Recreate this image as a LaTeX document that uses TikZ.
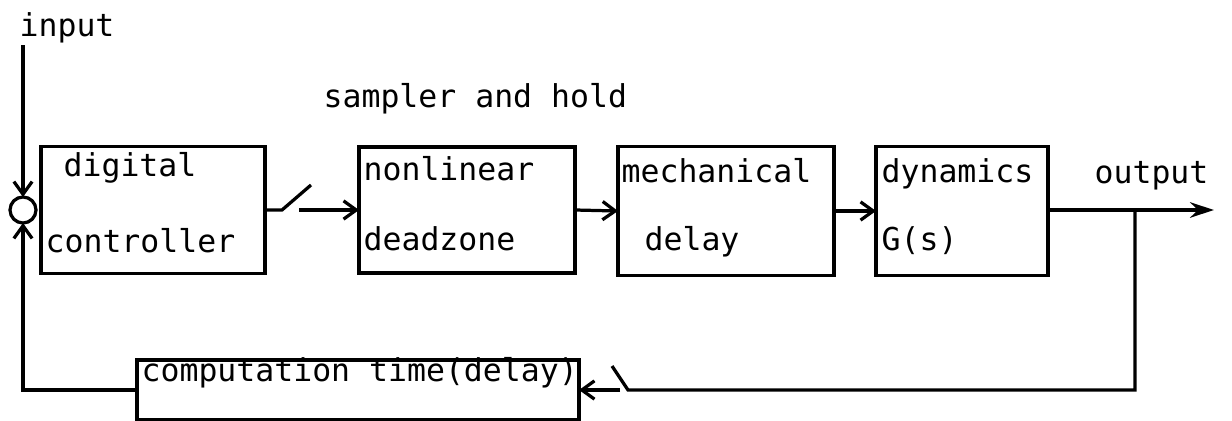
\documentclass[tikz,border=0pt]{standalone}
\usepackage{fontspec}
\setmonofont{DejaVu Sans Mono}
\usetikzlibrary{arrows.meta}

\begin{document}
\begin{tikzpicture}[x=0.025cm,y=-0.025cm]
  \tikzset{every path/.style={line width=2.3pt},
    blk/.style={draw,inner sep=0pt,outer sep=0pt},
    lbl/.style={anchor=base west,inner sep=0pt,font=\ttfamily\fontsize{22.4}{27}\selectfont},
    conn/.style={-{Straight Barb[length=9pt,width=13pt]}},
    outarr/.style={-{Stealth[length=17pt,width=11pt]}}}
  \useasboundingbox (0,0) rectangle (1232,421);
  \node[blk,circle,minimum size=0.65cm] (sum) at (23,210) {};
  \node[blk,minimum width=5.6cm,minimum height=3.175cm] (ctrl) at (153,210) {};
  \node[blk,minimum width=5.4cm,minimum height=3.15cm] (nonlin) at (467,210) {};
  \node[blk,minimum width=5.4cm,minimum height=3.225cm] (mech) at (726,211) {};
  \node[blk,minimum width=4.3cm,minimum height=3.225cm] (dyn) at (962,211) {};
  \node[blk,minimum width=11.05cm,minimum height=1.5cm] (comp) at (358,390) {};
  \node[lbl] (in) at (18,36) {input};
  \node[lbl] (sh) at (322,107) {sampler and hold};
  \node[lbl] (out) at (1093,183) {output};
  \node[lbl] (ctrl1) at (62,176) {digital};
  \node[lbl] (ctrl2) at (44,252) {controller};
  \node[lbl] (nonlin1) at (362,180) {nonlinear};
  \node[lbl] (nonlin2) at (362,250) {deadzone};
  \node[lbl] (mech1) at (620,182) {mechanical};
  \node[lbl] (mech2) at (643,250) {delay};
  \node[lbl] (dyn1) at (880,182) {dynamics};
  \node[lbl] (dyn2) at (880,250) {G(s)};
  \node[lbl] (comp1) at (140,381) {computation time(delay)};
  \coordinate (inp) at (23,45);
  \coordinate (sw1) at (282,210);
  \coordinate (sw1a) at (299,210);
  \coordinate (tap) at (1135,210);
  \coordinate (outp) at (1214,210);
  \coordinate (sw2) at (628,390);
  \coordinate (sw2a) at (620,390);
  \draw[conn] (inp) -- (sum.north);
  \draw[conn] (comp.west) -- (sum.south |- comp.west) -- (sum.south);
  \draw (ctrl.east) -- (sw1) -- ++(29,-25);
  \draw[conn] (sw1a) -- (nonlin.west);
  \draw[conn] (nonlin.east) -- (mech.west);
  \draw[conn] (mech.east) -- (dyn.west);
  \draw[outarr] (dyn.east |- tap) -- (outp);
  \draw (tap) -- (tap |- sw2) -- (sw2) -- ++(-16,-24);
  \draw[conn] (sw2a) -- (comp.east);
\end{tikzpicture}
\end{document}
